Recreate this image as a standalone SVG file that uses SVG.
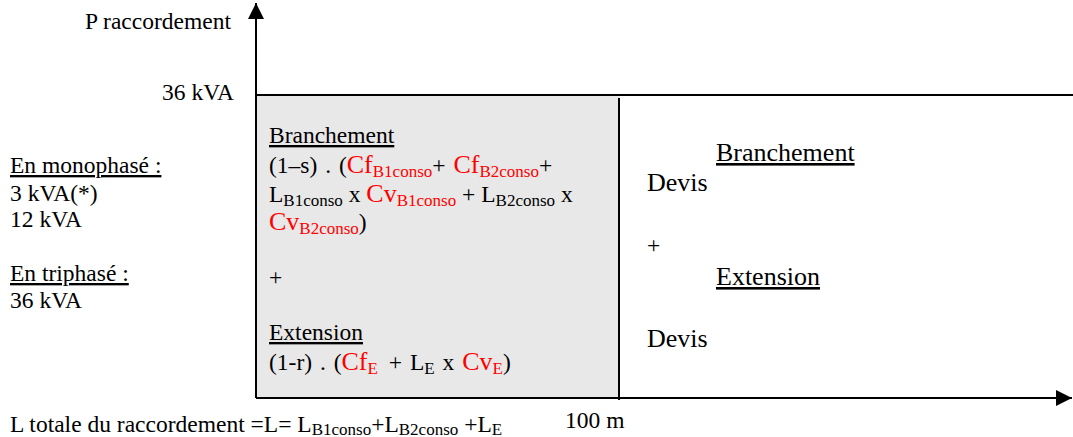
<svg xmlns="http://www.w3.org/2000/svg" width="1073" height="437" viewBox="0 0 1073 437">
<style>
text{font-family:"Liberation Serif","Times New Roman",serif;font-size:23.5px;fill:#000}
.r{fill:#ff0000;font-size:26px}
.s{font-size:17px}
.big{font-size:26px}
.u{text-decoration:underline}
.ax{stroke:#000;stroke-width:2;fill:none}
</style>
<defs>
<marker id="arr" viewBox="0 0 10 10" refX="10" refY="5" markerWidth="16" markerHeight="16" markerUnits="userSpaceOnUse" orient="auto">
<path d="M0,0 L10,5 L0,10 Z" fill="#000"/>
</marker>
</defs>
<rect x="256" y="95" width="364" height="303" fill="#e8e8e8"/>
<g id="connectors">
<line class="ax" x1="256" y1="398" x2="256" y2="3" marker-end="url(#arr)"/>
<line class="ax" x1="256" y1="398" x2="1072" y2="398" marker-end="url(#arr)"/>
<line class="ax" x1="256" y1="95" x2="1073" y2="95"/>
<line class="ax" x1="619" y1="98" x2="619" y2="400"/>
</g>
<g id="axis-labels">
<text x="85" y="29">P raccordement</text>
<text x="162" y="100">36 kVA</text>
<text x="565" y="428">100 m</text>
<text x="10" y="432">L totale du raccordement =L= L<tspan class="s" dy="3">B1conso</tspan><tspan dy="-3">+L</tspan><tspan class="s" dy="3">B2conso</tspan><tspan dy="-3"> +L</tspan><tspan class="s" dy="3">E</tspan></text>
</g>
<g id="puissances">
<text x="10" y="173" class="u">En monophasé :</text>
<text x="10" y="201">3 kVA(*)</text>
<text x="10" y="227">12 kVA</text>
<text x="10" y="281" class="u">En triphasé :</text>
<text x="10" y="308">36 kVA</text>
</g>
<g id="zone-formule">
<text x="269" y="143" class="u">Branchement</text>
<text x="269" y="173" word-spacing="2">(1–s) . (<tspan class="r">Cf</tspan><tspan class="r s" dy="4">B1conso</tspan><tspan dy="-4">+ </tspan><tspan class="r">Cf</tspan><tspan class="r s" dy="4">B2conso</tspan><tspan dy="-4">+</tspan></text>
<text x="269" y="202">L<tspan class="s" dy="4">B1conso</tspan><tspan dy="-4"> x </tspan><tspan class="r">Cv</tspan><tspan class="r s" dy="4">B1conso</tspan><tspan dy="-4"> + L</tspan><tspan class="s" dy="4">B2conso</tspan><tspan dy="-4"> x</tspan></text>
<text x="269" y="230"><tspan class="r">Cv</tspan><tspan class="r s" dy="4">B2conso</tspan><tspan dy="-4">)</tspan></text>
<text x="269" y="285">+</text>
<text x="269" y="340" class="u">Extension</text>
<text x="269" y="370" word-spacing="2">(1-r) . (<tspan class="r">Cf</tspan><tspan class="r s" dy="4">E</tspan><tspan dy="-4" dx="3"> + L</tspan><tspan class="s" dy="4">E</tspan><tspan dy="-4"> x </tspan><tspan class="r">Cv</tspan><tspan class="r s" dy="4">E</tspan><tspan dy="-4">)</tspan></text>
</g>
<g id="zone-devis">
<text x="716" y="161" class="u big">Branchement</text>
<text x="647" y="191" class="big">Devis</text>
<text x="647" y="253">+</text>
<text x="716" y="285" class="u big">Extension</text>
<text x="647" y="347" class="big">Devis</text>
</g>
</svg>
